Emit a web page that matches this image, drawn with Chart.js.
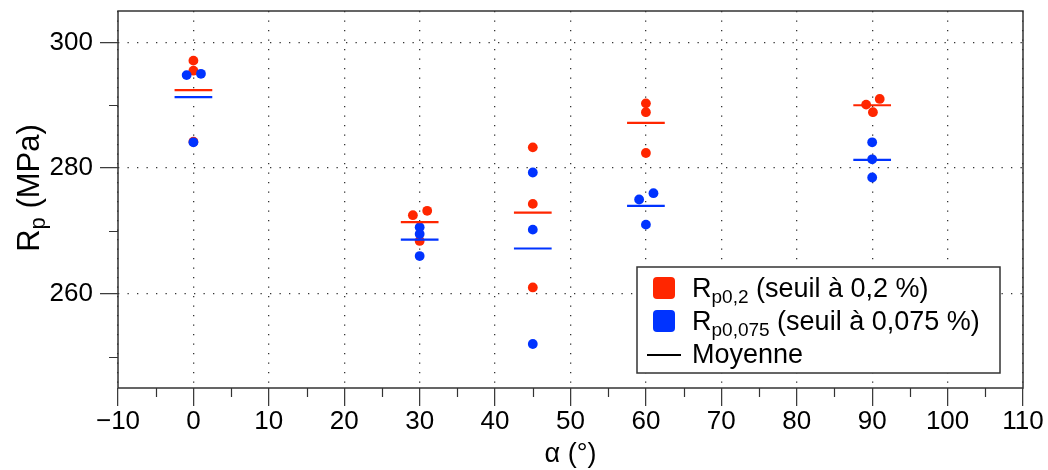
<!DOCTYPE html>
<html lang="fr">
<head>
<meta charset="UTF-8" />
<title>Rp en fonction de l'angle</title>
<script src="https://cdn.jsdelivr.net/npm/chart.js"></script>
<style>
  html, body { margin: 0; padding: 0; background: #fff; }
  #wrap { width: 1048px; height: 470px; }
</style>
</head>
<body>
<div id="wrap"><canvas id="rpChart"></canvas></div>
<script>
// Rp0,2 : individual measurements (x slightly shifted where dots overlap)
const rp02X = [0, 0, 0, 29.1, 31.0, 30, 45, 45, 45, 60, 60, 60, 91.0, 89.2, 90.1];
const rp02Y = [297.1, 295.5, 284.2, 272.5, 273.2, 268.4, 283.3, 274.3, 261.0, 290.3, 288.9, 282.4, 291.0, 290.1, 288.9];

// Rp0,075 : individual measurements
const rp0075X = [-0.9, 1.0, 0, 30, 30, 30, 45, 45, 45, 61.0, 59.1, 60, 90, 90, 90];
const rp0075Y = [294.8, 295.0, 284.1, 270.6, 269.5, 266.0, 279.3, 270.2, 252.0, 276.0, 275.0, 271.0, 284.1, 281.4, 278.5];

// means per angle
const angles = [0, 30, 45, 60, 90];
const rp02Mean = [292.4, 271.4, 272.9, 287.2, 290.0];
const rp0075Mean = [291.3, 268.6, 267.2, 274.0, 281.3];

// axes
const xTicks = [-10, 0, 10, 20, 30, 40, 50, 60, 70, 80, 90, 100, 110];
const xMinorTicks = [-5, 5, 15, 25, 35, 45, 55, 65, 75, 85, 95, 105];
const yTicks = [260, 280, 300];
const yMinorTicks = [250, 270, 290];

const legendItems = [
  { main: "R", sub: "p0,2", rest: " (seuil à 0,2 %)" },
  { main: "R", sub: "p0,075", rest: " (seuil à 0,075 %)" },
  { main: "Moyenne", sub: "", rest: "" },
];

const RED = "rgb(255, 38, 0)";
const BLUE = "rgb(0, 51, 255)";
const FONT = "'Liberation Sans', Arial, Helvetica, sans-serif";
const HALF = 2.5; // half width of the mean segments, in degrees

function points(xs, ys) {
  return xs.map((x, i) => ({ x: x, y: ys[i] }));
}

function meanSegments(means) {
  const out = [];
  angles.forEach((a, i) => {
    out.push({ x: a - HALF, y: means[i] });
    out.push({ x: a + HALF, y: means[i] });
    out.push({ x: a + HALF, y: null }); // break the line
  });
  return out;
}

// text with a subscript part, drawn from x on baseline y
function drawSub(ctx, x, y, main, sub, rest, size) {
  ctx.font = size + "px " + FONT;
  ctx.fillText(main, x, y);
  x += ctx.measureText(main).width;
  if (sub) {
    ctx.font = Math.round(size * 0.72) + "px " + FONT;
    ctx.fillText(sub, x, y + 6);
    x += ctx.measureText(sub).width;
  }
  ctx.font = size + "px " + FONT;
  ctx.fillText(rest, x, y);
  return x + ctx.measureText(rest).width;
}

function subWidth(ctx, main, sub, rest, size) {
  ctx.font = size + "px " + FONT;
  let w = ctx.measureText(main).width + ctx.measureText(rest).width;
  ctx.font = Math.round(size * 0.72) + "px " + FONT;
  return w + ctx.measureText(sub).width;
}

const decorPlugin = {
  id: "decor",
  afterDraw(chart) {
    const ctx = chart.ctx;
    const area = chart.chartArea;
    const xs = chart.scales.x;
    const ys = chart.scales.y;
    ctx.save();

    // frame
    ctx.strokeStyle = "#333";
    ctx.lineWidth = 1.5;
    ctx.strokeRect(area.left, area.top, area.right - area.left, area.bottom - area.top);

    // minor ticks
    ctx.beginPath();
    xMinorTicks.forEach((v) => {
      const px = Math.round(xs.getPixelForValue(v)) + 0.5;
      ctx.moveTo(px, area.bottom);
      ctx.lineTo(px, area.bottom + 9);
    });
    yMinorTicks.forEach((v) => {
      const py = Math.round(ys.getPixelForValue(v)) + 0.5;
      ctx.moveTo(area.left, py);
      ctx.lineTo(area.left - 9, py);
    });
    ctx.lineWidth = 1.2;
    ctx.stroke();

    // axis titles
    ctx.fillStyle = "#000";
    ctx.textBaseline = "alphabetic";
    ctx.textAlign = "left";
    ctx.font = "27px " + FONT;
    const xt = "α (°)";
    const xtw = ctx.measureText(xt).width;
    ctx.fillText(xt, (area.left + area.right) / 2 - xtw / 2, 462);

    ctx.save();
    ctx.translate(39, 188);
    ctx.rotate(-Math.PI / 2);
    const yw = subWidth(ctx, "R", "p", " (MPa)", 31);
    drawSub(ctx, -yw / 2, 0, "R", "p", " (MPa)", 31);
    ctx.restore();

    // legend
    const bx = area.right - 386, by = area.bottom - 121, bw = 363, bh = 106;
    ctx.fillStyle = "#fff";
    ctx.fillRect(bx, by, bw, bh);
    ctx.strokeStyle = "#333";
    ctx.lineWidth = 1.5;
    ctx.strokeRect(bx, by, bw, bh);
    const colors = [RED, BLUE];
    legendItems.forEach((it, i) => {
      const base = by + 30 + i * 33;
      if (i < 2) {
        ctx.fillStyle = colors[i];
        ctx.beginPath();
        ctx.roundRect(bx + 16, base - 20, 22, 22, 4);
        ctx.fill();
      } else {
        ctx.strokeStyle = "#000";
        ctx.lineWidth = 2;
        ctx.beginPath();
        ctx.moveTo(bx + 10, base - 8);
        ctx.lineTo(bx + 44, base - 8);
        ctx.stroke();
      }
      ctx.fillStyle = "#000";
      drawSub(ctx, bx + 55, base, it.main, it.sub, it.rest, 27);
    });

    ctx.restore();
  },
};

const ctx = document.getElementById("rpChart").getContext("2d");
const rpChart = new Chart(ctx, {
  type: "scatter",
  data: {
    datasets: [
      {
        label: "Rp0,2",
        data: points(rp02X, rp02Y),
        backgroundColor: RED,
        borderWidth: 0,
        pointRadius: 4.9,
        order: 4,
      },
      {
        label: "Rp0,075",
        data: points(rp0075X, rp0075Y),
        backgroundColor: BLUE,
        borderWidth: 0,
        pointRadius: 4.9,
        order: 3,
      },
      {
        label: "Moyenne Rp0,2",
        data: meanSegments(rp02Mean),
        showLine: true,
        spanGaps: false,
        borderColor: RED,
        borderWidth: 2.2,
        pointRadius: 0,
        order: 2,
      },
      {
        label: "Moyenne Rp0,075",
        data: meanSegments(rp0075Mean),
        showLine: true,
        spanGaps: false,
        borderColor: BLUE,
        borderWidth: 2.2,
        pointRadius: 0,
        order: 1,
      },
    ],
  },
  options: {
    responsive: true,
    maintainAspectRatio: false,
    animation: false,
    layout: { padding: { top: 11, right: 25, left: 0, bottom: 0 } },
    plugins: {
      legend: { display: false },
      tooltip: { enabled: false },
    },
    scales: {
      x: {
        type: "linear",
        min: -10,
        max: 110,
        afterBuildTicks: (scale) => {
          scale.ticks = xTicks.map((v) => ({ value: v }));
        },
        afterFit: (scale) => {
          scale.height = 82;
          scale.paddingLeft = 0;
          scale.paddingRight = 0;
        },
        ticks: {
          autoSkip: false,
          maxRotation: 0,
          padding: 0,
          color: "#000",
          font: { family: FONT, size: 26 },
          callback: (v) => (v < 0 ? "\u2212" + Math.abs(v) : String(v)),
        },
        grid: {
          color: "#333",
          lineWidth: 1.3,
          tickLength: 18,
          tickColor: "#333",
          tickWidth: 1.2,
          tickBorderDash: [],
        },
        border: { display: false, dash: [1.3, 8.2] },
      },
      y: {
        type: "linear",
        min: 245,
        max: 305,
        afterBuildTicks: (scale) => {
          scale.ticks = yTicks.map((v) => ({ value: v }));
        },
        afterFit: (scale) => {
          scale.width = 118;
          scale.paddingTop = 0;
          scale.paddingBottom = 0;
        },
        ticks: {
          padding: 7,
          color: "#000",
          font: { family: FONT, size: 26 },
        },
        grid: {
          color: "#333",
          lineWidth: 1.3,
          tickLength: 18,
          tickColor: "#333",
          tickWidth: 1.2,
          tickBorderDash: [],
        },
        border: { display: false, dash: [1.3, 8.2] },
      },
    },
  },
  plugins: [decorPlugin],
});
</script>
</body>
</html>
